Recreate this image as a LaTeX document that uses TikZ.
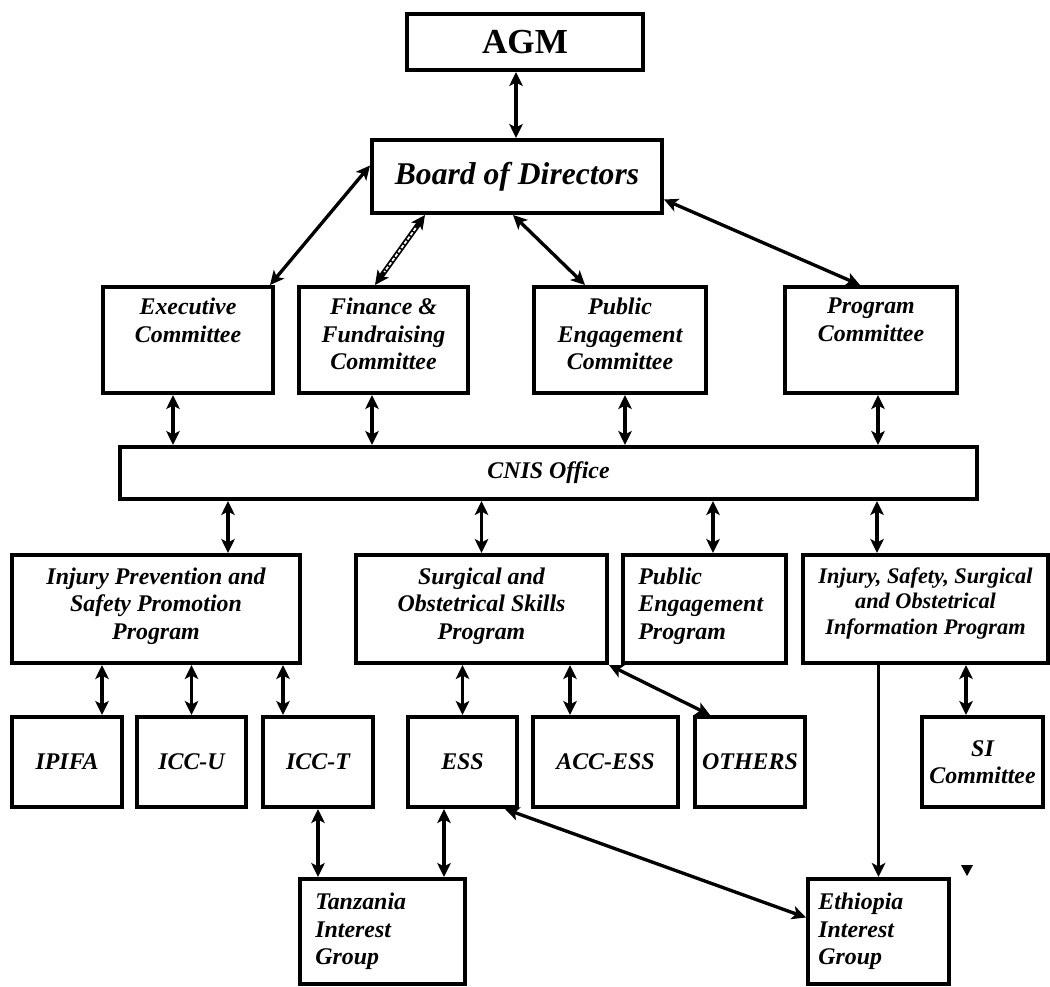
\documentclass[tikz,border=0pt]{standalone}
\usepackage{fontspec}
\setmainfont{Liberation Serif}
\usetikzlibrary{positioning, arrows.meta, calc}

\begin{document}
\begin{tikzpicture}[
    x=0.02cm, y=-0.02cm,
    box/.style={draw, line width=2.3pt, inner sep=0pt},
    lbl/.style={inner sep=0pt, align=center, font=\fontsize{13.6}{15.6}\selectfont\bfseries\itshape},
    small lbl/.style={lbl, font=\fontsize{12.7}{14.7}\selectfont\bfseries\itshape},
    >={Stealth[length=2.8mm, width=2.7mm, inset=0.7mm]},
    link/.style={line width=1.9pt}
]
\useasboundingbox (0,0) rectangle (1050,986);

% Top of the chart
\node[box, minimum width=4.72cm, minimum height=1.12cm, font=\fontsize{20}{24}\selectfont\bfseries] (agm) at (525,42) {AGM};
\node[box, minimum width=5.8cm, minimum height=1.46cm, font=\fontsize{18}{22}\selectfont\bfseries\itshape] (board) at (517,176.5) {Board of Directors};

% Committees
\node[box, minimum width=3.4cm, minimum height=2.12cm] (exec) at (188,340) {};
\node[box, minimum width=3.38cm, minimum height=2.12cm] (fin) at (383.5,340) {};
\node[box, minimum width=3.44cm, minimum height=2.12cm] (pec) at (620,340) {};
\node[box, minimum width=3.44cm, minimum height=2.12cm] (progc) at (871,340) {};
\node[lbl, below=0.26cm of exec.north] (exec-txt) {Executive\\Committee};
\node[lbl, below=0.26cm of fin.north] (fin-txt) {Finance \&\\Fundraising\\Committee};
\node[lbl, below=0.26cm of pec.north] (pec-txt) {Public\\Engagement\\Committee};
\node[lbl, below=0.26cm of progc.north] (progc-txt) {Program\\Committee};

% Office
\node[box, minimum width=17.14cm, minimum height=1.04cm, font=\fontsize{13.6}{15.6}\selectfont\bfseries\itshape] (cnis) at (548.5,473) {CNIS Office};

% Programs
\node[box, minimum width=5.76cm, minimum height=2.16cm] (ipsp) at (156,609) {};
\node[box, minimum width=5.02cm, minimum height=2.16cm] (sosp) at (481.5,609) {};
\node[box, minimum width=3.26cm, minimum height=2.16cm] (pep) at (704.5,609) {};
\node[box, minimum width=4.9cm, minimum height=2.16cm] (isso) at (925.5,609) {};
\node[lbl, below=0.29cm of ipsp.north] (ipsp-txt) {Injury Prevention and\\Safety Promotion\\Program};
\node[lbl, below=0.29cm of sosp.north] (sosp-txt) {Surgical and\\Obstetrical Skills\\Program};
\node[lbl, align=left, below right=0.29cm and 0.34cm of pep.north west] (pep-txt) {Public\\Engagement\\Program};
\node[small lbl, below=0.28cm of isso.north] (isso-txt) {Injury, Safety, Surgical\\and Obstetrical\\Information Program};

% Groups and committees under the programs
\node[box, lbl, minimum width=2.2cm, minimum height=1.8cm] (ipifa) at (67,762) {IPIFA};
\node[box, lbl, minimum width=2.18cm, minimum height=1.8cm] (iccu) at (191.5,762) {ICC-U};
\node[box, lbl, minimum width=2.2cm, minimum height=1.8cm] (icct) at (318,762) {ICC-T};
\node[box, lbl, minimum width=2.18cm, minimum height=1.8cm] (ess) at (462.5,762) {ESS};
\node[box, lbl, minimum width=2.9cm, minimum height=1.8cm] (access) at (605.5,762) {ACC-ESS};
\node[box, lbl, minimum width=2.2cm, minimum height=1.8cm] (others) at (750,762) {OTHERS};
\node[box, lbl, minimum width=2.42cm, minimum height=1.8cm] (sic) at (982.5,762) {SI\\Committee};

% Interest groups
\node[box, minimum width=3.3cm, minimum height=2.1cm] (tig) at (382.5,931.5) {};
\node[box, minimum width=2.82cm, minimum height=2.1cm] (eig) at (878.5,931.5) {};
\node[lbl, align=left, below right=0.32cm and 0.34cm of tig.north west] (tig-txt) {Tanzania\\Interest\\Group};
\node[lbl, align=left, below right=0.32cm and 0.24cm of eig.north west] (eig-txt) {Ethiopia\\Interest\\Group};

% Links from the board
\draw[link, <->] ($(agm.south)+(-9,0)$) -- ($(agm.south |- board.north)+(-9,0)$);
\draw[link, <->] ($(board.west)+(0,-11)$) -- ($(exec.north east)+(-5,0)$);
\draw[link, <->, line width=3pt] ($(board.south)+(-92,0)$) -- ($(fin.north)+(-8.5,0)$);
\draw[white, line width=1pt, dash pattern=on 2pt off 1pt, shorten <=0.32cm, shorten >=0.32cm] ($(board.south)+(-92,0)$) -- ($(fin.north)+(-8.5,0)$);
\draw[link, <->] ($(board.south)+(-4,0)$) -- ($(pec.north)+(-35,0)$);
\draw[link, <->] ($(board.east)+(0,23)$) -- ($(progc.north)+(-11,0)$);

% Committees to office
\draw[link, <->] ($(exec.south)+(-15,0)$) -- ($(exec.south |- cnis.north)+(-15,0)$);
\draw[link, <->] ($(fin.south)+(-11.5,0)$) -- ($(fin.south |- cnis.north)+(-11.5,0)$);
\draw[link, <->] ($(pec.south)+(5,0)$) -- ($(pec.south |- cnis.north)+(5,0)$);
\draw[link, <->] ($(progc.south)+(7,0)$) -- ($(progc.south |- cnis.north)+(7,0)$);

% Office to programs
\draw[link, <->] ($(ipsp.north |- cnis.south)+(72,0)$) -- ($(ipsp.north)+(72,0)$);
\draw[link, <->] (sosp.north |- cnis.south) -- (sosp.north);
\draw[link, <->] ($(pep.north |- cnis.south)+(8.5,0)$) -- ($(pep.north)+(8.5,0)$);
\draw[link, <->] ($(isso.north |- cnis.south)+(-48.5,0)$) -- ($(isso.north)+(-48.5,0)$);

% Programs to groups
\draw[link, <->] ($(ipifa.north |- ipsp.south)+(35,0)$) -- ($(ipifa.north)+(35,0)$);
\draw[link, <->] (iccu.north |- ipsp.south) -- (iccu.north);
\draw[link, <->] ($(icct.north |- ipsp.south)+(-35,0)$) -- ($(icct.north)+(-35,0)$);
\draw[link, <->] (ess.north |- sosp.south) -- (ess.north);
\draw[link, <->] ($(access.north |- sosp.south)+(-35.5,0)$) -- ($(access.north)+(-35.5,0)$);
\draw[link, <->] (sosp.south east) -- ($(others.north west)+(17,0)$);
\draw[link, <->] ($(sic.north |- isso.south)+(-16.5,0)$) -- ($(sic.north)+(-16.5,0)$);
\draw[link, ->] (eig.north |- isso.south) -- (eig.north);

% Groups to interest groups
\draw[link, <->] (icct.south) -- (icct.south |- tig.north);
\draw[link, <->] ($(ess.south)+(-18.5,0)$) -- ($(ess.south |- tig.north)+(-18.5,0)$);
\draw[link, <->] ($(ess.south east)+(-14,0)$) -- ($(eig.west)+(0,-14)$);

% Small mark by the Ethiopia box
\fill (961,865) -- (973,865) -- (967,876) -- cycle;

\end{tikzpicture}
\end{document}
